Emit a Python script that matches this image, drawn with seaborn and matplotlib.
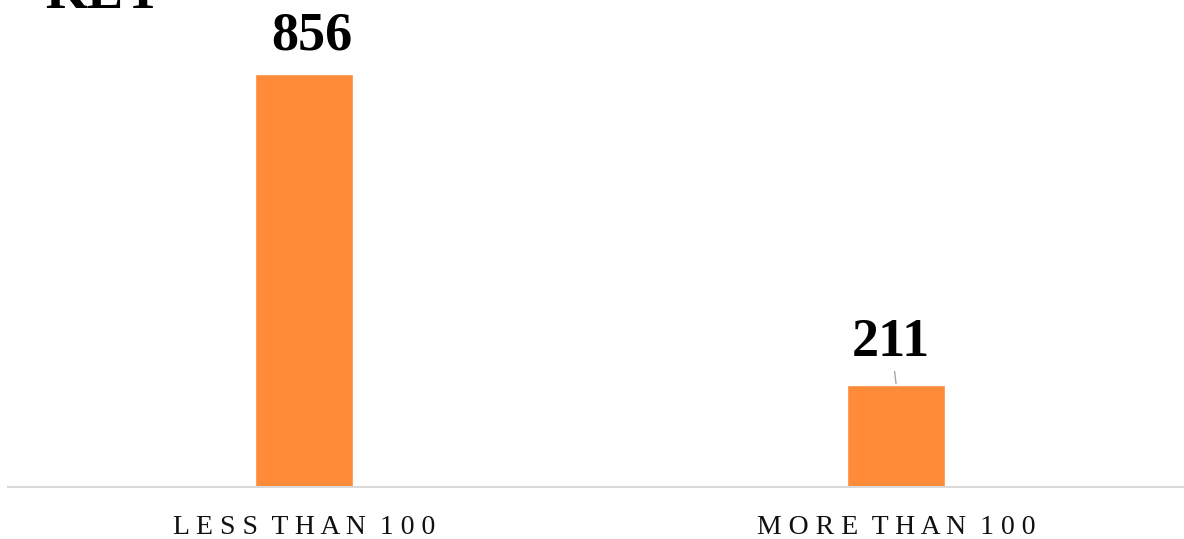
import matplotlib
matplotlib.use("Agg")
import matplotlib.pyplot as plt
import pandas as pd
import seaborn as sns

categories = ["LESS THAN 100", "MORE THAN 100"]
counts = [856, 211]
title = "KEY"

BAR = "#FF8A38"

sns.set_style("white")
plt.rcParams["font.family"] = ["Liberation Serif", "DejaVu Serif"]

df = pd.DataFrame({"cat": categories, "n": counts})

fig = plt.figure(figsize=(11.84, 5.39), dpi=100)
ax = fig.add_axes([8 / 1184, 52 / 539, 1 - 8 / 1184, 1 - 52 / 539])
sns.barplot(df, x="cat", y="n", color=BAR, width=0.166, saturation=1, ax=ax)

ax.set_xlim(-0.5, 1.486)
ax.set_ylim(0, 1009)
for s in ["top", "right", "left"]:
    ax.spines[s].set_visible(False)
ax.spines["bottom"].set_color("#d9d9d9")
ax.spines["bottom"].set_linewidth(1.5)
ax.set_yticks([])
ax.set_xlabel("")
ax.set_ylabel("")


def spaced(s):
    # crude letter spacing
    return "  ".join(" ".join(w) for w in s.split(" "))


ax.set_xticks(range(len(categories)))
ax.set_xticklabels([spaced(c) for c in categories], fontsize=20, color="#111111")
ax.tick_params(axis="x", length=0, pad=20)

# value labels (offsets in points, dpi 100)
ax.annotate(str(counts[0]), xy=(0, counts[0]), xytext=(5.8, 17.3), textcoords="offset points",
            ha="center", va="baseline", fontsize=39, fontweight="bold", color="black")
ax.annotate(str(counts[1]), xy=(1, counts[1]), xytext=(-3.6, 20.9), textcoords="offset points",
            ha="center", va="baseline", fontsize=39, fontweight="bold", color="black",
            arrowprops=dict(arrowstyle="-", color="#a6a6a6", lw=1,
                            shrinkA=0, shrinkB=1))

fig.text(45 / 1184, 1 - 8 / 539, title, ha="left", va="baseline",
         fontsize=39, fontweight="bold", color="black")

fig.savefig("out.png", dpi=100)
